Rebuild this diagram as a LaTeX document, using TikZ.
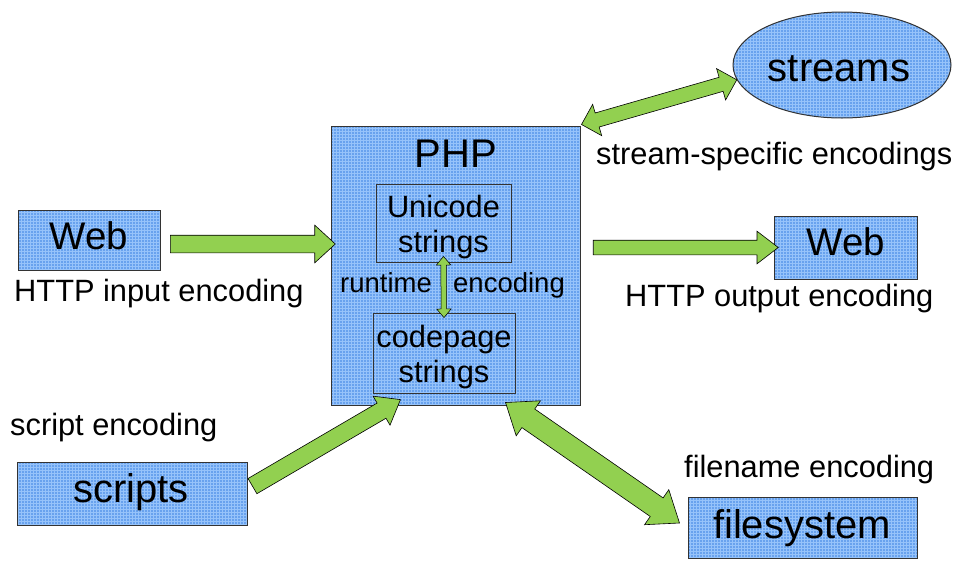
\documentclass[tikz,border=0pt]{standalone}
\usepackage{fontspec}
\setmainfont{Liberation Sans}
\usetikzlibrary{shapes.geometric,shapes.arrows,calc,patterns}
\definecolor{boxblue}{RGB}{104,162,238}
\definecolor{gridblue}{RGB}{150,195,250}
\definecolor{argreen}{RGB}{146,208,80}
\newcommand{\fatarrow}[4][]{%
  \path let \p1=(#2), \p2=(#3),
    \n1={atan2(\y2-\y1,\x2-\x1)}, \n2={veclen(\x2-\x1,\y2-\y1)} in
    node[#1, minimum height=\n2, rotate=\n1] (#4) at ($(#2)!0.5!(#3)$) {};}
\tikzset{
  bluefill/.style={preaction={fill=boxblue}, pattern=grid, pattern color=gridblue},
  bluebox/.style={draw=black!80, line width=1pt, bluefill, rectangle, inner sep=0pt},
  bigtxt/.style={font=\fontsize{40}{44}\selectfont},
  lbl/.style={font=\fontsize{30.8}{35}\selectfont, inner sep=0pt, anchor=base west},
  garrow/.style={single arrow, draw=black, line width=0.6pt, fill=argreen,
    inner xsep=0pt, outer sep=0pt, minimum width=0pt, single arrow head indent=0pt},
  gdarrow/.style={double arrow, draw=black, line width=0.6pt, fill=argreen,
    inner xsep=0pt, outer sep=0pt, minimum width=0pt, double arrow head indent=0pt}
}
\begin{document}
\begin{tikzpicture}[x=1pt,y=-1pt]
\useasboundingbox (0,0) rectangle (956,560);
% boxes
\node[bluebox, minimum width=142pt, minimum height=60pt] (webL) at (89,240) {};
\node[inner sep=0pt, anchor=base, font=\fontsize{38.5}{42}\selectfont] (webLt) at (89,249) {Web};
\node[bluebox, minimum width=249pt, minimum height=279pt] (php) at (455.5,265.5) {};
\node[inner sep=0pt, anchor=base, bigtxt] (phpl) at (456,167) {PHP};
\node[draw=black!80, line width=0.8pt, minimum width=135pt, minimum height=78pt, inner sep=0pt] (uni) at (443.5,223) {};
\node[inner sep=0pt, anchor=base, align=center, font=\fontsize{30.8}{35}\selectfont] (unit) at (443.5,252) {Unicode\\strings};
\node[draw=black!80, line width=0.8pt, minimum width=142pt, minimum height=80pt, inner sep=0pt] (cp) at (444,353) {};
\node[inner sep=0pt, anchor=base, align=center, font=\fontsize{30.8}{35}\selectfont] (cpt) at (444,382) {codepage\\strings};
\node[inner sep=0pt, anchor=base west, font=\fontsize{27.5}{30}\selectfont] (rt) at (340,292) {runtime};
\node[inner sep=0pt, anchor=base west, font=\fontsize{27.5}{30}\selectfont] (enc) at (453,292) {encoding};
\node[ellipse, draw=black!80, line width=1pt, bluefill, minimum width=218pt, minimum height=106pt,
  inner sep=0pt] (streams) at (842,65) {};
\node[inner sep=0pt, anchor=base, bigtxt] (streamst) at (839,81) {streams};
\node[bluebox, minimum width=143pt, minimum height=63pt] (webR) at (845.5,247.5) {};
\node[inner sep=0pt, anchor=base, font=\fontsize{38.5}{42}\selectfont] (webRt) at (846,255) {Web};
\node[bluebox, minimum width=230pt, minimum height=63pt] (scripts) at (132,494) {};
\node[inner sep=0pt, anchor=base, bigtxt] (scriptst) at (131,502) {scripts};
\node[bluebox, minimum width=229pt, minimum height=61pt] (fs) at (802.5,528) {};
\node[inner sep=0pt, anchor=base, bigtxt] (fst) at (802,538) {filesystem};
% labels
\node[lbl] (lin) at (14,301) {HTTP input encoding};
\node[lbl] (lout) at (625,306) {HTTP output encoding};
\node[lbl] (lstr) at (596,164) {stream-specific encodings};
\node[lbl] (lscr) at (10,435) {script encoding};
\node[lbl] (lfs) at (684,477) {filename encoding};
% arrow end points
\coordinate (a1s) at ([xshift=5pt,yshift=-4pt]webL.east);
\coordinate (a1e) at (php.west |- a1s);
\coordinate (a2s) at ([xshift=8pt]php.east |- webR.west);
\coordinate (a3s) at ([xshift=1pt,yshift=1pt]php.north east);
\coordinate (a3e) at (streams.188);
\coordinate (a4s) at ([yshift=5pt]scripts.east);
\coordinate (a4e) at ([xshift=-60pt,yshift=3pt]php.south);
\coordinate (a5s) at ([xshift=50pt,yshift=3pt]php.south);
\coordinate (a5e) at ([xshift=-8pt,yshift=5pt]fs.west);
\coordinate (a6s) at ([yshift=6pt]uni.south);
\coordinate (a6e) at ([yshift=-5pt]cp.north);
% arrows
\fatarrow[garrow, inner ysep=8.5pt, single arrow head extend=10pt, single arrow tip angle=85]{a1s}{a1e}{arrA}
\fatarrow[garrow, inner ysep=7pt, single arrow head extend=9pt, single arrow tip angle=75]{a2s}{webR.west}{arrB}
\fatarrow[gdarrow, inner ysep=7pt, double arrow head extend=9pt, double arrow tip angle=90]{a3s}{a3e}{arrC}
\fatarrow[garrow, inner ysep=8.5pt, single arrow head extend=8pt, single arrow tip angle=75]{a4s}{a4e}{arrD}
\fatarrow[gdarrow, inner ysep=11pt, double arrow head extend=10pt, double arrow tip angle=75]{a5s}{a5e}{arrE}
\fatarrow[gdarrow, line width=0.5pt, inner ysep=2.5pt, double arrow head extend=4.5pt, double arrow tip angle=80]{a6s}{a6e}{arrF}
\end{tikzpicture}
\end{document}
